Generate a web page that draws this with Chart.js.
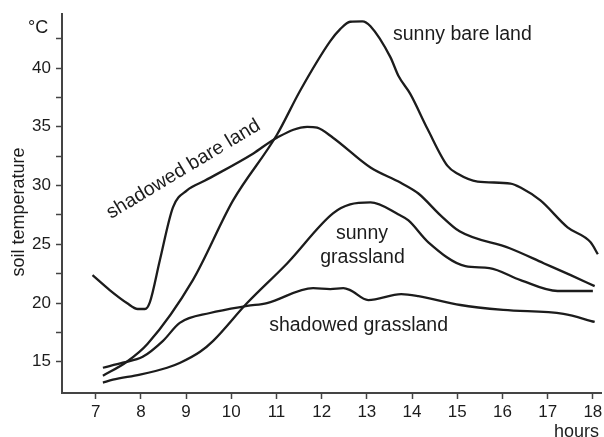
<!DOCTYPE html>
<html>
<head>
<meta charset="utf-8">
<script src="https://cdn.jsdelivr.net/npm/chart.js@4/dist/chart.umd.min.js"></script>
<style>
html,body{margin:0;padding:0;background:#fff;}
#c{display:block;}
</style>
</head>
<body>
<canvas id="c" width="604" height="437"></canvas>
<script>
// ---- data ----
const xTickValues = [7, 8, 9, 10, 11, 12, 13, 14, 15, 16, 17, 18];
const yTickValues = [15, 17.5, 20, 22.5, 25, 27.5, 30, 32.5, 35, 37.5, 40, 42.5];
const yTickLabels = ['15', '', '20', '', '25', '', '30', '', '35', '', '40', ''];
const seriesNames = ['sunny bare land', 'shadowed bare land', 'sunny grassland', 'shadowed grassland'];

const sunnyBareHours = [7.16, 7.69, 8.15, 9.15, 10.04, 11.01, 11.52, 12.19, 12.41, 12.63, 12.90, 13.08, 13.52, 13.70, 13.96, 14.34, 14.78, 15.00, 15.45, 16.18, 16.40, 16.84, 17.44, 17.95, 18.11];
const sunnyBareTemp  = [13.81, 15.00, 16.53, 21.95, 28.73, 34.32, 38.05, 42.29, 43.31, 43.94, 43.98, 43.56, 40.93, 39.32, 37.80, 34.83, 31.69, 31.02, 30.34, 30.17, 29.83, 28.73, 26.44, 25.17, 24.15];

const shadowBareHours = [6.93, 7.31, 7.69, 7.93, 8.09, 8.20, 8.42, 8.71, 9.02, 9.42, 10.48, 11.01, 11.68, 11.90, 12.25, 13.08, 13.74, 14.14, 14.63, 15.05, 16.16, 16.91, 17.51, 18.04];
const shadowBareTemp  = [22.37, 21.10, 20.00, 19.49, 19.49, 20.08, 23.64, 28.14, 29.58, 30.42, 32.71, 34.07, 35.00, 34.92, 34.07, 31.53, 30.25, 29.32, 27.46, 26.10, 24.66, 23.39, 22.37, 21.44];

const sunnyGrassHours = [7.16, 7.38, 7.98, 8.58, 8.87, 9.31, 9.60, 10.35, 11.24, 12.25, 12.63, 13.08, 13.70, 13.92, 14.36, 15.18, 15.71, 16.40, 17.22, 18.00];
const sunnyGrassTemp  = [13.22, 13.47, 13.90, 14.49, 14.92, 15.85, 16.78, 20.00, 23.39, 27.63, 28.39, 28.56, 27.54, 27.03, 25.17, 23.14, 22.97, 21.95, 21.02, 21.02];

const shadowGrassHours = [7.16, 7.60, 8.04, 8.49, 8.86, 9.53, 10.35, 10.79, 11.81, 12.19, 12.48, 12.63, 13.03, 13.76, 14.14, 15.07, 16.02, 17.35, 18.04];
const shadowGrassTemp  = [14.49, 14.92, 15.42, 16.78, 18.31, 19.15, 19.75, 20.00, 21.27, 21.19, 21.27, 21.10, 20.25, 20.76, 20.59, 19.83, 19.41, 19.07, 18.39];

// ---- build ----
const FONT = "'Liberation Sans', Arial, Helvetica, sans-serif";
const INK = '#1c1c1c';
function pts(h, t) { return h.map((v, i) => ({ x: v, y: t[i] })); }
function ds(name, h, t) {
  return {
    label: name, data: pts(h, t), showLine: true, borderColor: INK, borderWidth: 2.3,
    pointRadius: 0, cubicInterpolationMode: 'monotone', fill: false
  };
}

const labelPlugin = {
  id: 'labels',
  afterDraw(chart) {
    const ctx = chart.ctx;
    ctx.save();
    ctx.fillStyle = INK;
    ctx.textBaseline = 'alphabetic';
    ctx.font = '19.5px ' + FONT;
    ctx.textAlign = 'left';
    ctx.fillText(seriesNames[0], 393, 40);
    ctx.save();
    ctx.translate(111, 219);
    ctx.rotate(-31 * Math.PI / 180);
    ctx.fillText(seriesNames[1], 0, 0);
    ctx.restore();
    ctx.textAlign = 'center';
    const sg = seriesNames[2].split(' ');
    ctx.fillText(sg[0], 362, 239);
    ctx.fillText(sg[1], 362.5, 263);
    ctx.textAlign = 'right';
    ctx.fillText(seriesNames[3], 448, 331);
    // axis captions
    ctx.font = '18px ' + FONT;
    ctx.textAlign = 'left';
    ctx.fillText('°C', 28, 33);
    ctx.textAlign = 'right';
    ctx.fillText('hours', 599, 437);
    ctx.save();
    ctx.translate(24, 212);
    ctx.rotate(-Math.PI / 2);
    ctx.textAlign = 'center';
    ctx.fillText('soil temperature', 0, 0);
    ctx.restore();
    ctx.restore();
  }
};

new Chart(document.getElementById('c'), {
  type: 'scatter',
  data: {
    datasets: [
      ds(seriesNames[0], sunnyBareHours, sunnyBareTemp),
      ds(seriesNames[1], shadowBareHours, shadowBareTemp),
      ds(seriesNames[2], sunnyGrassHours, sunnyGrassTemp),
      ds(seriesNames[3], shadowGrassHours, shadowGrassTemp)
    ]
  },
  options: {
    responsive: false,
    animation: false,
    devicePixelRatio: 1,
    layout: { padding: { top: 14, right: 3, left: 0, bottom: 0 } },
    plugins: { legend: { display: false }, tooltip: { enabled: false } },
    scales: {
      x: {
        type: 'linear', min: 6.255, max: 18.18,
        afterBuildTicks: s => { s.ticks = xTickValues.map(v => ({ value: v })); },
        afterFit: s => { s.height = 44; s.paddingLeft = 0; s.paddingRight = 0; },
        ticks: { font: { size: 17, family: FONT }, color: INK, padding: 3, maxRotation: 0, autoSkip: false,
                 callback: v => String(v) },
        grid: { drawOnChartArea: false, drawTicks: true, tickLength: 6, tickColor: '#444', tickWidth: 1.5 },
        border: { color: '#444', width: 2 }
      },
      y: {
        type: 'linear', min: 12.34, max: 44.6,
        afterBuildTicks: s => { s.ticks = yTickValues.map(v => ({ value: v })); },
        afterFit: s => { s.width = 62; s.paddingTop = 0; s.paddingBottom = 0; },
        ticks: { font: { size: 17, family: FONT }, color: INK, padding: 5, autoSkip: false,
                 callback: (v) => { const i = yTickValues.indexOf(v); return i >= 0 ? yTickLabels[i] : ''; } },
        grid: { drawOnChartArea: false, drawTicks: true, tickLength: 6, tickColor: '#444', tickWidth: 1.5 },
        border: { color: '#444', width: 2 }
      }
    }
  },
  plugins: [labelPlugin]
});
</script>
</body>
</html>
